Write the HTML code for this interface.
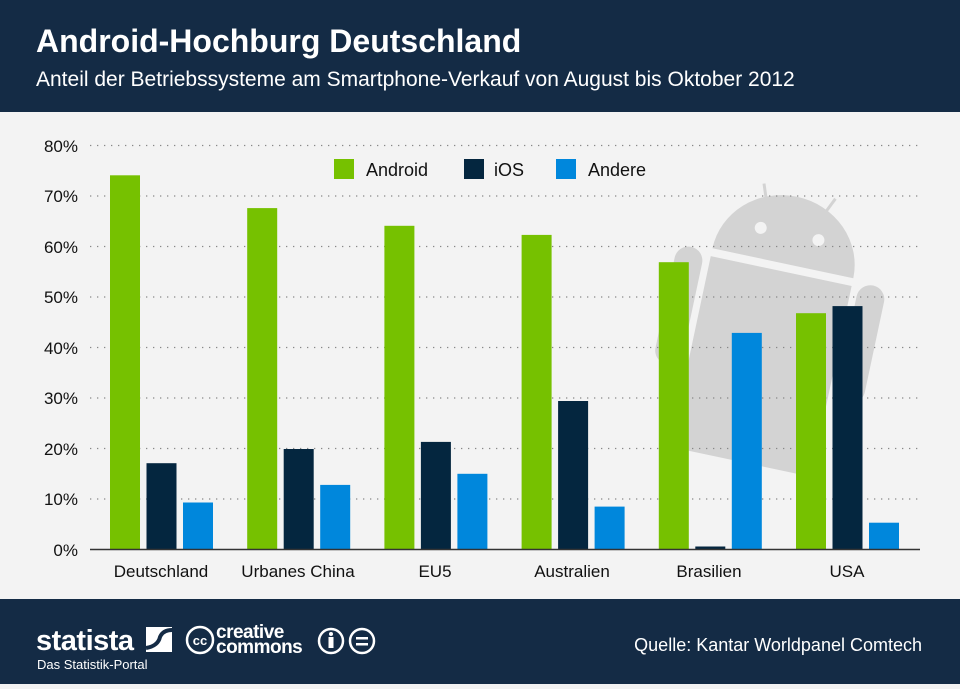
<!DOCTYPE html>
<html><head><meta charset="utf-8"><style>
body{margin:0;width:960px;height:684px;overflow:hidden;font-family:"Liberation Sans",sans-serif;background:#f2f2f2}
</style></head><body>
<svg width="960" height="684" xmlns="http://www.w3.org/2000/svg" font-family="Liberation Sans, sans-serif">
<rect x="0" y="0" width="960" height="112" fill="#142b45"/>
<text x="36" y="52" font-size="32" font-weight="bold" fill="#fff">Android-Hochburg Deutschland</text>
<text x="36" y="86" font-size="21" fill="#fff">Anteil der Betriebssysteme am Smartphone-Verkauf von August bis Oktober 2012</text>
<rect x="0" y="112" width="960" height="487" fill="#f3f3f3"/>
<g fill="#d3d3d3" transform="translate(-12 0) rotate(12 785 300)">
<line x1="752" y1="188" x2="760" y2="210" stroke="#d3d3d3" stroke-width="3"/>
<line x1="825" y1="188" x2="815" y2="210" stroke="#d3d3d3" stroke-width="3"/>
<path d="M715 262 A72 68 0 0 1 859 262 Z"/>
<circle cx="758" cy="232" r="6" fill="#f3f3f3"/><circle cx="817" cy="232" r="6" fill="#f3f3f3"/>
<path d="M715 270 H859 V450 Q859 465 845 465 H729 Q715 465 715 450 Z"/>
<rect x="680" y="265" width="28" height="120" rx="14"/>
<rect x="866" y="265" width="28" height="120" rx="14"/>
</g>
<g stroke="#888" stroke-width="1.3" stroke-dasharray="1.3 5.7">
<line x1="90" y1="145.5" x2="920" y2="145.5"/><line x1="90" y1="196" x2="920" y2="196"/>
<line x1="90" y1="246.5" x2="920" y2="246.5"/><line x1="90" y1="297" x2="920" y2="297"/>
<line x1="90" y1="347.5" x2="920" y2="347.5"/><line x1="90" y1="398" x2="920" y2="398"/>
<line x1="90" y1="448.5" x2="920" y2="448.5"/><line x1="90" y1="499" x2="920" y2="499"/>
</g>
<g font-size="17" fill="#111" text-anchor="end">
<text x="78" y="152">80%</text><text x="78" y="202">70%</text><text x="78" y="253">60%</text>
<text x="78" y="303">50%</text><text x="78" y="354">40%</text><text x="78" y="404">30%</text>
<text x="78" y="455">20%</text><text x="78" y="505">10%</text><text x="78" y="556">0%</text>
</g>
<g>
<rect x="110" y="175.3" width="30" height="373.7" fill="#76c100"/>
<rect x="146.5" y="463.2" width="30" height="85.8" fill="#04263f"/>
<rect x="183" y="502.5" width="30" height="46.5" fill="#0087dc"/>
<rect x="247.2" y="208.1" width="30" height="340.9" fill="#76c100"/>
<rect x="283.7" y="449" width="30" height="100" fill="#04263f"/>
<rect x="320.2" y="484.9" width="30" height="64.1" fill="#0087dc"/>
<rect x="384.4" y="225.8" width="30" height="323.2" fill="#76c100"/>
<rect x="420.9" y="441.9" width="30" height="107.1" fill="#04263f"/>
<rect x="457.4" y="473.8" width="30" height="75.2" fill="#0087dc"/>
<rect x="521.6" y="234.9" width="30" height="314.1" fill="#76c100"/>
<rect x="558.1" y="401" width="30" height="148" fill="#04263f"/>
<rect x="594.6" y="506.6" width="30" height="42.4" fill="#0087dc"/>
<rect x="658.8" y="262.2" width="30" height="286.8" fill="#76c100"/>
<rect x="695.3" y="546.5" width="30" height="2.5" fill="#04263f"/>
<rect x="731.8" y="332.9" width="30" height="216.1" fill="#0087dc"/>
<rect x="796" y="313.2" width="30" height="235.8" fill="#76c100"/>
<rect x="832.5" y="306.1" width="30" height="242.9" fill="#04263f"/>
<rect x="869" y="522.7" width="30" height="26.3" fill="#0087dc"/>
</g>
<line x1="90" y1="549.5" x2="920" y2="549.5" stroke="#333" stroke-width="1.5"/>
<g font-size="17" fill="#111" text-anchor="middle">
<text x="161" y="577">Deutschland</text><text x="298" y="577">Urbanes China</text>
<text x="435" y="577">EU5</text><text x="572" y="577">Australien</text>
<text x="709" y="577">Brasilien</text><text x="847" y="577">USA</text>
</g>
<rect x="334" y="159" width="20" height="20" fill="#76c100"/><text x="366" y="176" font-size="18" fill="#111">Android</text>
<rect x="464" y="159" width="20" height="20" fill="#04263f"/><text x="494" y="176" font-size="18" fill="#111">iOS</text>
<rect x="556" y="159" width="20" height="20" fill="#0087dc"/><text x="588" y="176" font-size="18" fill="#111">Andere</text>
<rect x="0" y="599" width="960" height="85" fill="#142b45"/>
<text x="36" y="650" font-size="29" font-weight="bold" fill="#fff" letter-spacing="-0.5">statista</text>
<path d="M146 627 H172 V652 H146 Z" fill="#fff"/>
<path d="M146 648 Q158 646 160 637 Q163 630 172 630" stroke="#142b45" stroke-width="4" fill="none"/>
<text x="37" y="669" font-size="13" fill="#fff">Das Statistik-Portal</text>
<circle cx="200" cy="640" r="13" fill="none" stroke="#fff" stroke-width="2.5"/>
<text x="200" y="645" font-size="13" font-weight="bold" fill="#fff" text-anchor="middle">cc</text>
<text x="216" y="638" font-size="19" font-weight="bold" fill="#fff" letter-spacing="-0.5">creative</text>
<text x="216" y="653" font-size="19" font-weight="bold" fill="#fff" letter-spacing="-0.5">commons</text>
<circle cx="331" cy="641" r="12" fill="none" stroke="#fff" stroke-width="2.5"/>
<circle cx="331" cy="634" r="2" fill="#fff"/><rect x="328.5" y="637" width="5" height="11" fill="#fff"/>
<circle cx="362" cy="641" r="12" fill="none" stroke="#fff" stroke-width="2.5"/>
<rect x="356" y="637" width="12" height="2.5" fill="#fff"/><rect x="356" y="643" width="12" height="2.5" fill="#fff"/>
<text x="922" y="651" font-size="18" fill="#fff" text-anchor="end">Quelle: Kantar Worldpanel Comtech</text>
</svg>
</body></html>
